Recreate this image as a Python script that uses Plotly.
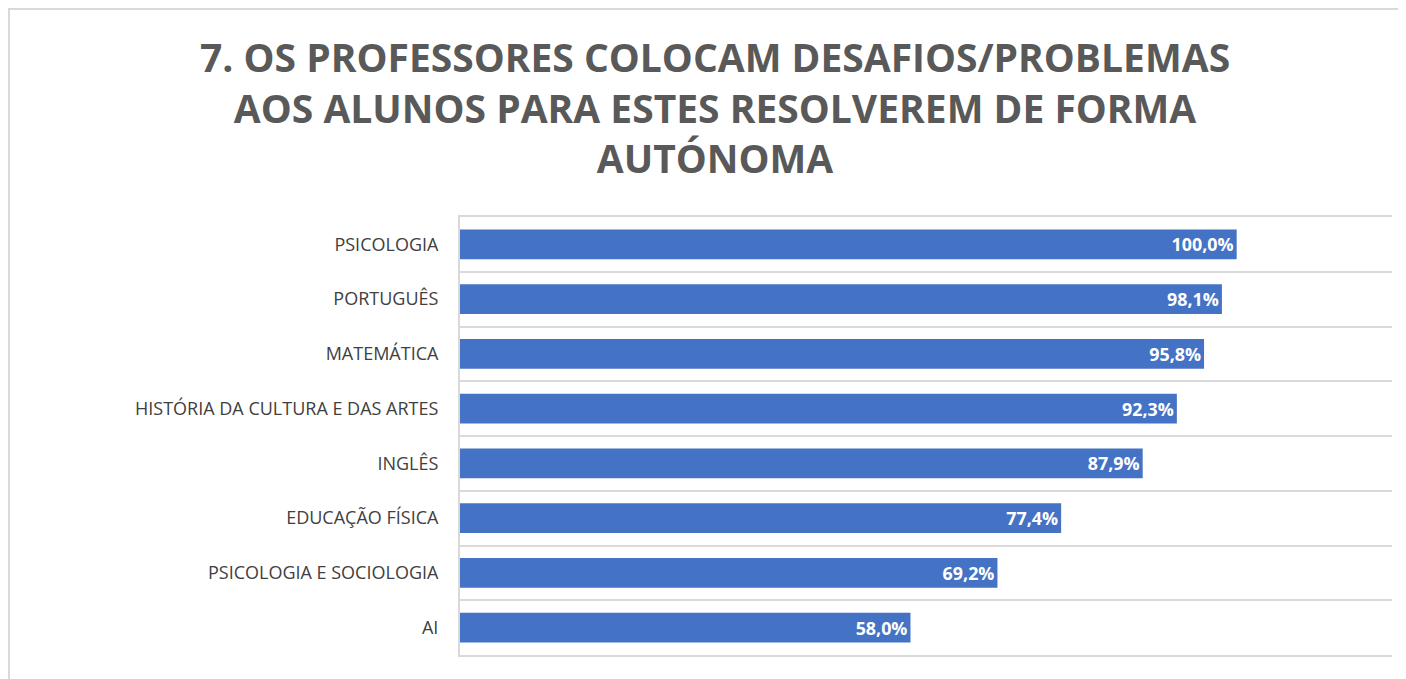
import plotly.graph_objects as go

#--------------------------------------------------------------
# Data

disciplinas = ['PSICOLOGIA', 'PORTUGUÊS', 'MATEMÁTICA',
               'HISTÓRIA DA CULTURA E DAS ARTES', 'INGLÊS',
               'EDUCAÇÃO FÍSICA', 'PSICOLOGIA E SOCIOLOGIA', 'AI']
percentagens = [100.0, 98.1, 95.8, 92.3, 87.9, 77.4, 69.2, 58.0]

titulo = ('7. OS PROFESSORES COLOCAM DESAFIOS/PROBLEMAS<br>'
          'AOS ALUNOS PARA ESTES RESOLVEREM DE FORMA<br>AUTÓNOMA')

#--------------------------------------------------------------

fig = go.Figure()

fig.add_trace(go.Bar(
    x=percentagens,
    y=disciplinas,
    orientation='h',
    marker=dict(color='#4472C4', line=dict(width=0)),
    texttemplate='%{x:.1f}%',
    textposition='inside',
    insidetextanchor='end',
    textfont=dict(family='Open Sans', size=18, color='white', weight='bold'),
    hoverinfo='skip'
))

# page body adds 8px, so the figure is a bit smaller than the window
fig.update_layout(
    width=1398,
    height=671,
    margin=dict(l=452, r=14, t=209, b=24),
    paper_bgcolor='white',
    plot_bgcolor='white',
    separators=',.',
    bargap=0.455,
    showlegend=False,
    font=dict(family='Open Sans', color='#404040')
)

# title as an annotation so the three lines sit where they should
fig.add_annotation(
    text=titulo,
    xref='paper', yref='paper',
    x=0.2736, y=1.2511,
    xanchor='center', yanchor='middle',
    showarrow=False,
    align='center',
    font=dict(family='Open Sans', size=39, color='#595959', weight='bold')
)

fig.update_xaxes(
    range=[0, 120],
    showticklabels=False,
    showgrid=False,
    zeroline=False,
    showline=True,
    mirror=True,
    linecolor='#D9D9D9',
    linewidth=2
)

fig.update_yaxes(
    autorange='reversed',
    tickson='boundaries',
    showgrid=True,
    gridcolor='#D9D9D9',
    gridwidth=2,
    showline=True,
    linecolor='#D9D9D9',
    linewidth=2,
    ticks='',
    ticklabelstandoff=16,
    tickfont=dict(family='Open Sans', size=18, color='#404040')
)

# light frame around the chart (only left and top edges show)
fig.add_shape(type='rect', xref='paper', yref='paper',
              x0=-0.4839, x1=1.05, y0=-0.2, y1=1.4749,
              line=dict(color='#D9D9D9', width=2), layer='below')

fig.write_html("out.html")
